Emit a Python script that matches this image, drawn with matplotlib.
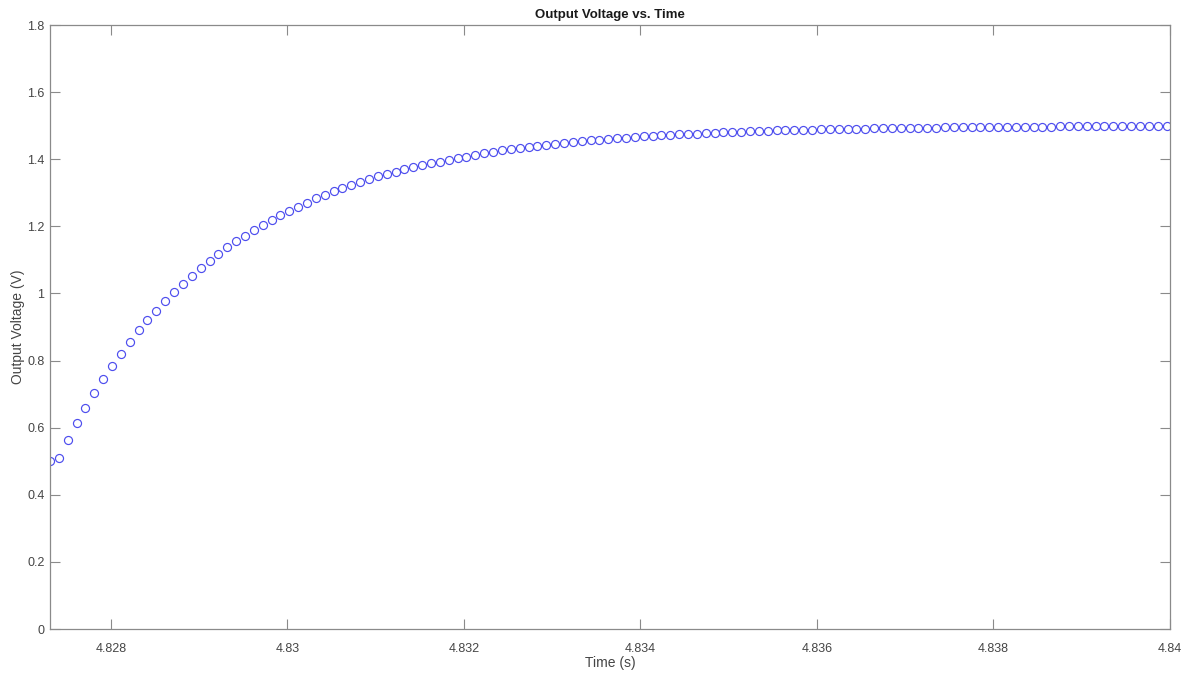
import numpy as np
import matplotlib
matplotlib.use("Agg")
import matplotlib.pyplot as plt
from matplotlib.ticker import FixedLocator, FuncFormatter

# sample grid (scope capture, evenly spaced)
T0 = 4.82731
DT = 0.0001004

# output voltage, one value per sample
volts = [
    0.500, 0.510, 0.563, 0.613, 0.659, 0.703, 0.745, 0.784, 0.819, 0.855,
    0.890, 0.920, 0.949, 0.977, 1.003, 1.029, 1.053, 1.075, 1.097, 1.117,
    1.137, 1.155, 1.172, 1.189, 1.204, 1.219, 1.233, 1.246, 1.258, 1.271,
    1.283, 1.294, 1.305, 1.315, 1.324, 1.333, 1.341, 1.349, 1.356, 1.363,
    1.370, 1.376, 1.382, 1.388, 1.393, 1.398, 1.403, 1.408, 1.413, 1.418,
    1.422, 1.426, 1.430, 1.434, 1.437, 1.440, 1.443, 1.446, 1.449, 1.451,
    1.454, 1.456, 1.458, 1.460, 1.462, 1.464, 1.466, 1.468, 1.469, 1.471,
    1.472, 1.474, 1.475, 1.476, 1.477, 1.479, 1.480, 1.481, 1.482, 1.483,
    1.484, 1.485, 1.486, 1.486, 1.487, 1.488, 1.488, 1.489, 1.489, 1.490,
    1.490, 1.491, 1.491, 1.492, 1.492, 1.492, 1.493, 1.493, 1.494, 1.494,
    1.494, 1.495, 1.495, 1.495, 1.495, 1.496, 1.496, 1.496, 1.496, 1.497,
    1.497, 1.497, 1.497, 1.497, 1.498, 1.498, 1.498, 1.498, 1.498, 1.498,
    1.498, 1.499, 1.499, 1.499, 1.499, 1.499, 1.499,
]
times = T0 + DT * np.arange(len(volts))

x_ticks = [4.828, 4.830, 4.832, 4.834, 4.836, 4.838, 4.840]
y_ticks = [0, 0.2, 0.4, 0.6, 0.8, 1.0, 1.2, 1.4, 1.6, 1.8]

plt.rcParams['font.family'] = ['Liberation Sans', 'DejaVu Sans']

AX_COL = '#8a8a8a'
TXT_COL = '#454545'

fig = plt.figure(figsize=(11.9, 6.73), dpi=100)
ax = fig.add_axes([50/1190, 44/673, 1120/1190, 604/673])

ax.plot(times, volts, linestyle='none', marker='o', markersize=5.8,
        markerfacecolor='none', markeredgecolor='#4d4dee', markeredgewidth=0.85)

ax.set_xlim(T0, 4.840)
ax.set_ylim(0, 1.8)
ax.xaxis.set_major_locator(FixedLocator(x_ticks))
ax.yaxis.set_major_locator(FixedLocator(y_ticks))
ax.xaxis.set_major_formatter(FuncFormatter(lambda v, p: ('%.4f' % v).rstrip('0').rstrip('.')))
ax.yaxis.set_major_formatter(FuncFormatter(lambda v, p: ('%.1f' % v).rstrip('0').rstrip('.')))

ax.tick_params(direction='in', length=7, width=0.8, color=AX_COL, labelcolor=TXT_COL,
               labelsize=9, top=True, right=True, pad=4)
ax.tick_params(axis='x', pad=10)
for s in ax.spines.values():
    s.set_color(AX_COL)
    s.set_linewidth(0.9)

ax.set_title('Output Voltage vs. Time', fontsize=9.5, fontweight='bold', color='#1a1a1a', pad=5)
ax.set_xlabel('Time (s)', fontsize=10, color=TXT_COL, labelpad=1)
ax.set_ylabel('Output Voltage (V)', fontsize=10, color=TXT_COL, labelpad=1.5)

fig.savefig('out.png', dpi=100, facecolor='white')
